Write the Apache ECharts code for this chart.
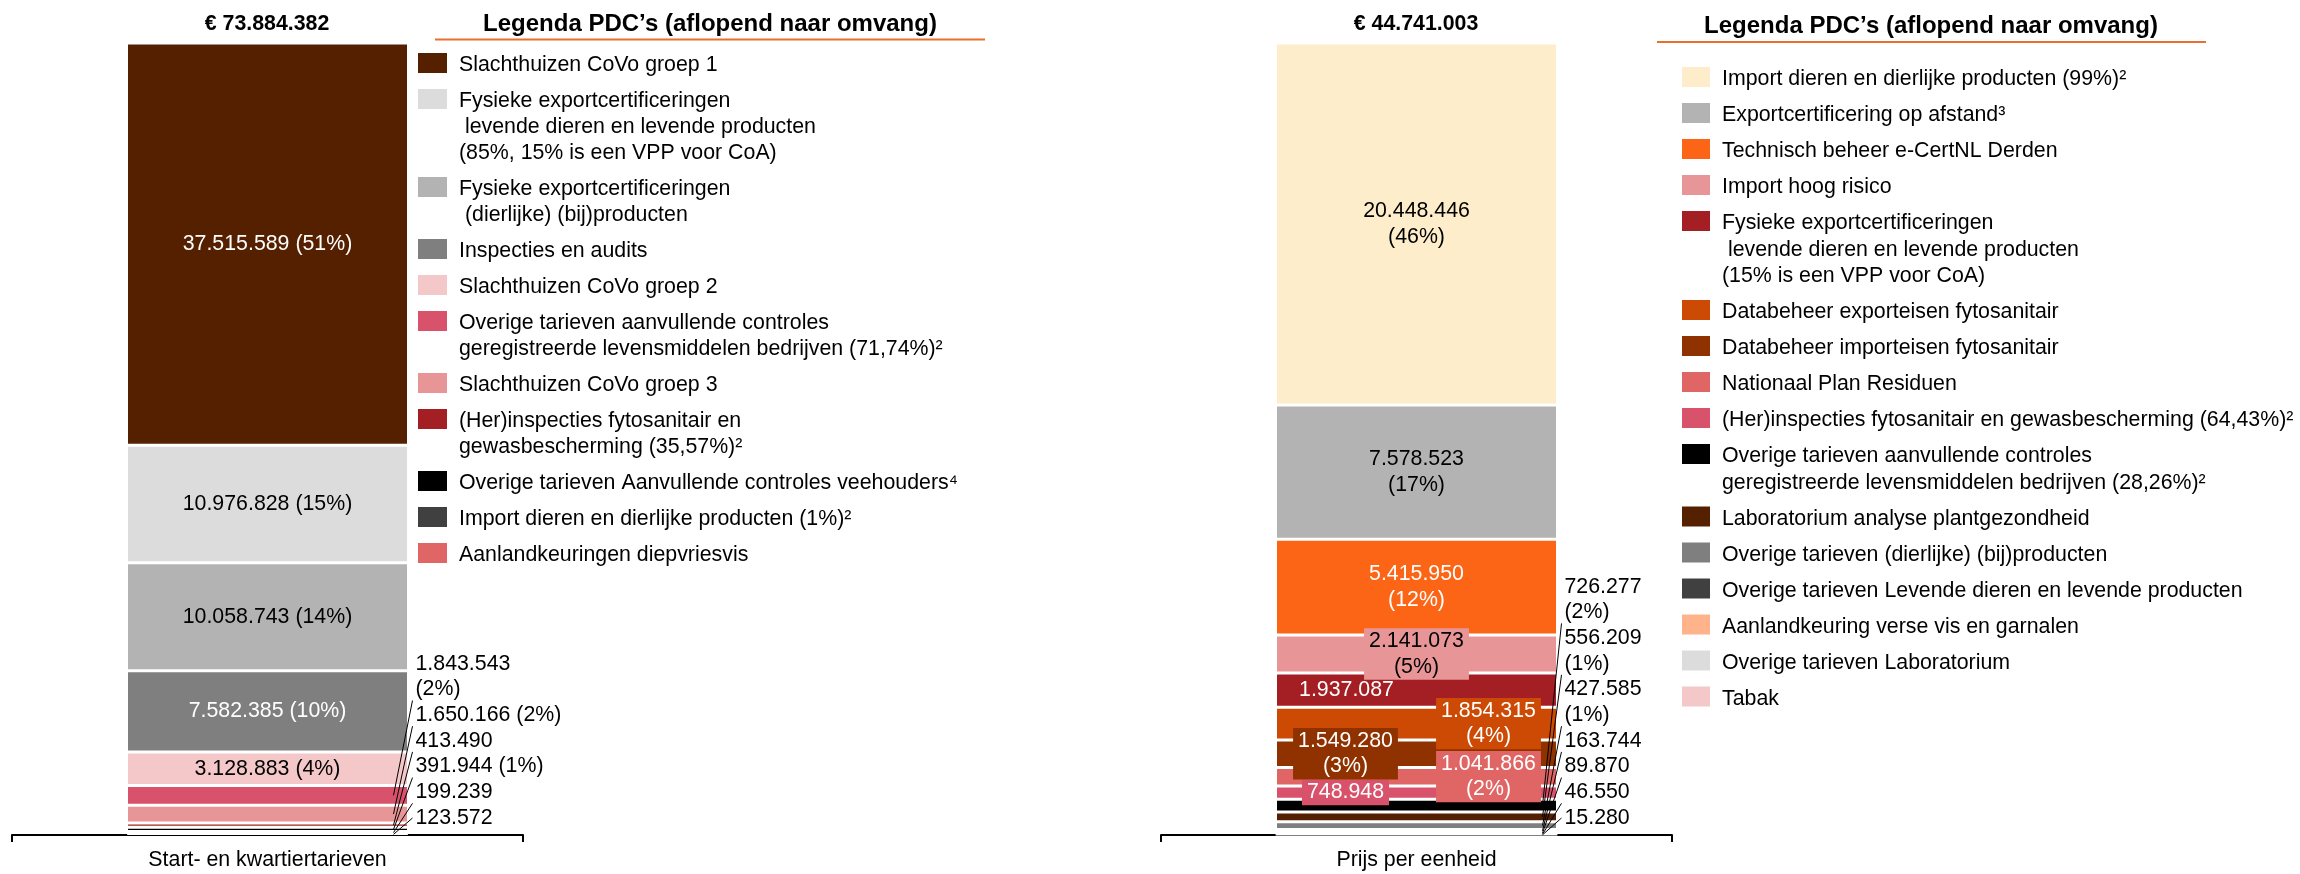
<!DOCTYPE html>
<html>
<head>
<meta charset="utf-8">
<script src="https://cdn.jsdelivr.net/npm/echarts@6/dist/echarts.min.js"></script>
<style>
  html, body { margin: 0; padding: 0; background: #fff; }
  #root { width: 2300px; height: 874px; }
</style>
</head>
<body>
<div id="root"></div>
<script>
// --- data (left: start- en kwartiertarieven, right: prijs per eenheid), largest first
const leftCategory = 'Start- en kwartiertarieven';
const leftNames = [
  'Slachthuizen CoVo groep 1',
  'Fysieke exportcertificeringen\n levende dieren en levende producten\n(85%, 15% is een VPP voor CoA)',
  'Fysieke exportcertificeringen\n (dierlijke) (bij)producten',
  'Inspecties en audits',
  'Slachthuizen CoVo groep 2',
  'Overige tarieven aanvullende controles\ngeregistreerde levensmiddelen bedrijven (71,74%)²',
  'Slachthuizen CoVo groep 3',
  '(Her)inspecties fytosanitair en\ngewasbescherming (35,57%)²',
  'Overige tarieven Aanvullende controles veehouders⁴',
  'Import dieren en dierlijke producten (1%)²',
  'Aanlandkeuringen diepvriesvis'
];
const leftValues = [37515589, 10976828, 10058743, 7582385, 3128883, 1843543, 1650166, 413490, 391944, 199239, 123572];
const leftPercents = ['51%', '15%', '14%', '10%', '4%', '2%', '2%', '', '1%', '', ''];

const rightCategory = 'Prijs per eenheid';
const rightNames = [
  'Import dieren en dierlijke producten (99%)²',
  'Exportcertificering op afstand³',
  'Technisch beheer e-CertNL Derden',
  'Import hoog risico',
  'Fysieke exportcertificeringen\n levende dieren en levende producten\n(15% is een VPP voor CoA)',
  'Databeheer exporteisen fytosanitair',
  'Databeheer importeisen fytosanitair',
  'Nationaal Plan Residuen',
  '(Her)inspecties fytosanitair en gewasbescherming (64,43%)²',
  'Overige tarieven aanvullende controles\ngeregistreerde levensmiddelen bedrijven (28,26%)²',
  'Laboratorium analyse plantgezondheid',
  'Overige tarieven (dierlijke) (bij)producten',
  'Overige tarieven Levende dieren en levende producten',
  'Aanlandkeuring verse vis en garnalen',
  'Overige tarieven Laboratorium',
  'Tabak'
];
const rightValues = [20448446, 7578523, 5415950, 2141073, 1937087, 1854315, 1549280, 1041866, 748948, 726277, 556209, 427585, 163744, 89870, 46550, 15280];
const rightPercents = ['46%', '17%', '12%', '5%', '', '4%', '3%', '2%', '', '2%', '1%', '1%', '', '', '', ''];

// --- styles
const leftColors = ['#552000', '#dcdcdc', '#b3b3b3', '#7f7f7f', '#f4c7c9', '#d9526b', '#e89597', '#a31f24', '#000000', '#404040', '#e06565'];
const rightColors = ['#fdedca', '#b3b3b3', '#fb6515', '#e89597', '#a31f24', '#cc4a04', '#8f3200', '#e06565', '#d9526b', '#000000', '#552000', '#7f7f7f', '#404040', '#ffb38a', '#dcdcdc', '#f4c7c9'];

const FONT = '"Liberation Sans", Arial, sans-serif';
const FS = 21.33;
const LINE = 25.7;
const BAR_W = 282;

const fmt = v => String(v).replace(/\B(?=(\d{3})+(?!\d))/g, '.');
const sum = arr => arr.reduce((a, b) => a + b, 0);

const charts = [
  {
    names: leftNames, values: leftValues, pct: leftPercents, colors: leftColors, category: leftCategory,
    gridLeft: 12, inside: 5,
    insideColor: ['#fff', '#000', '#000', '#fff', '#000'],
    insideOffset: [0, 0, 0, 0, 0],
    insideBox: [false, false, false, false, false],
    insideText: (v, p) => fmt(v) + ' (' + p + ')',
    outsideText: (v, p, i) => fmt(v) + (p ? (i === 5 ? '\n(' : ' (') + p + ')' : ''),
    legend: { iconX: 418, iconW: 29, textX: 459, top: 53, extra: 26 },
    head: { totalX: 267, titleX: 710, titleY: 24, lineX1: 435, lineX2: 985, lineY: 39.5 }
  },
  {
    names: rightNames, values: rightValues, pct: rightPercents, colors: rightColors, category: rightCategory,
    gridLeft: 1161, inside: 9,
    insideColor: ['#000', '#000', '#fff', '#000', '#fff', '#fff', '#fff', '#fff', '#fff'],
    insideOffset: [0, 0, 0, 0, -70, 72, -71, 72, -71],
    insideBox: [false, false, false, true, false, true, true, true, true],
    insideText: (v, p) => fmt(v) + (p ? '\n(' + p + ')' : ''),
    outsideText: (v, p) => fmt(v) + (p ? '\n(' + p + ')' : ''),
    legend: { iconX: 1682, iconW: 28, textX: 1722, top: 67, extra: 26.5 },
    head: { totalX: 1416, titleX: 1931, titleY: 26, lineX1: 1657, lineX2: 2206, lineY: 42 }
  }
];

const grids = [], xAxes = [], yAxes = [], series = [], graphics = [];

charts.forEach((c, k) => {
  const total = sum(c.values);
  grids.push({ left: c.gridLeft, width: 511, top: 43, bottom: 39 });
  xAxes.push({
    type: 'category', gridIndex: k, data: [c.category],
    axisLine: { lineStyle: { color: '#000', width: 2 } },
    axisTick: { show: true, length: 7, lineStyle: { color: '#000', width: 2 } },
    axisLabel: { color: '#000', fontSize: FS, fontFamily: FONT, margin: 15 }
  });
  yAxes.push({ type: 'value', gridIndex: k, min: 0, max: total, show: false, splitLine: { show: false } });

  // stacked bars, smallest at the bottom
  for (let i = c.values.length - 1; i >= 0; i--) {
    const isInside = i < c.inside;
    series.push({
      type: 'bar', name: c.names[i], xAxisIndex: k, yAxisIndex: k, stack: 'total' + k,
      barWidth: BAR_W, data: [c.values[i]],
      itemStyle: { color: c.colors[i], borderColor: '#fff', borderWidth: 1.5 },
      label: isInside ? {
        show: true, position: 'inside',
        formatter: c.insideText(c.values[i], c.pct[i]),
        color: c.insideColor[i], fontSize: FS, fontFamily: FONT, lineHeight: LINE,
        offset: [c.insideOffset[i], 0],
        backgroundColor: c.insideBox[i] ? c.colors[i] : 'transparent',
        padding: c.insideBox[i] ? [0, 5] : 0
      } : { show: false },
      silent: true
    });
  }

  // labels with leader lines for the thin segments
  const outs = [];
  for (let i = c.inside; i < c.values.length; i++) {
    const below = sum(c.values.slice(i + 1));
    const text = c.outsideText(c.values[i], c.pct[i], i);
    outs.push({ mid: below + c.values[i] / 2, text, lines: text.split('\n').length });
  }
  outs.forEach((o, j) => {
    o.below = sum(outs.slice(j + 1).map(q => q.lines));
  });
  series.push({
    type: 'custom', xAxisIndex: k, yAxisIndex: k, silent: true, clip: false, z: 5,
    data: outs.map(o => [0, o.mid]),
    renderItem: (params, api) => {
      const o = outs[params.dataIndex];
      const seg = api.coord([0, api.value(1)]);
      const base = api.coord([0, 0]);
      const lastC = base[1] - 17 - o.below * LINE;
      const edge = seg[0] + BAR_W / 2;
      const startY = o.below === 0 ? lastC : lastC + 11;
      return {
        type: 'group',
        children: [
          { type: 'line', shape: { x1: edge + 4, y1: startY, x2: edge - 15, y2: seg[1] }, style: { stroke: '#000', lineWidth: 1 } },
          {
            type: 'text',
            style: {
              text: o.text, x: edge + 7, y: lastC - (o.lines - 1) * LINE - LINE / 2,
              verticalAlign: 'top', fontSize: FS, fontFamily: FONT, lineHeight: LINE, fill: '#000'
            }
          }
        ]
      };
    }
  });

  // header: total and legend title with orange rule
  graphics.push({
    type: 'text', left: null, x: c.head.totalX, y: 24,
    style: { text: '€ ' + fmt(total), align: 'center', verticalAlign: 'middle', fontSize: FS, fontWeight: 'bold', fontFamily: FONT, fill: '#000' }
  });
  graphics.push({
    type: 'text', x: c.head.titleX, y: c.head.titleY,
    style: { text: 'Legenda PDC’s (aflopend naar omvang)', align: 'center', verticalAlign: 'middle', fontSize: 24, fontWeight: 'bold', fontFamily: FONT, fill: '#000' }
  });
  graphics.push({
    type: 'line', shape: { x1: c.head.lineX1, y1: c.head.lineY, x2: c.head.lineX2, y2: c.head.lineY },
    style: { stroke: '#e8702c', lineWidth: 2 }
  });

  // legend, descending by size
  let y = c.legend.top;
  c.names.forEach((name, i) => {
    const lines = name.split('\n').length;
    graphics.push({
      type: 'rect', shape: { x: c.legend.iconX, y: y, width: c.legend.iconW, height: 20 },
      style: { fill: c.colors[i] }
    });
    graphics.push({
      type: 'text', x: c.legend.textX, y: y - 1,
      style: { text: name, verticalAlign: 'top', fontSize: FS, fontFamily: FONT, lineHeight: c.legend.extra, fill: '#000' }
    });
    y += 36 + c.legend.extra * (lines - 1);
  });
});

const myChart = echarts.init(document.getElementById('root'));
myChart.setOption({
  animation: false,
  grid: grids,
  xAxis: xAxes,
  yAxis: yAxes,
  series,
  graphic: { elements: graphics }
});
window.onresize = () => myChart.resize();
</script>
</body>
</html>
